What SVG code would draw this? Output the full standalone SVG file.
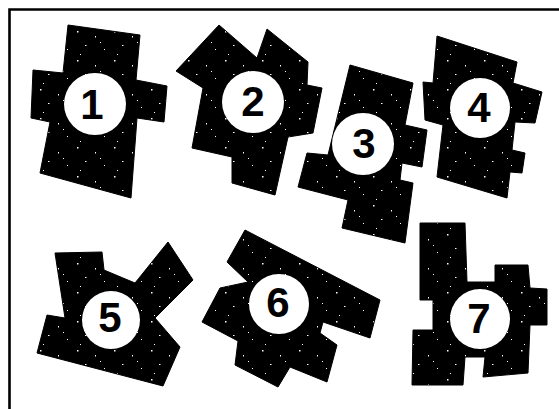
<svg xmlns="http://www.w3.org/2000/svg" width="559" height="409" viewBox="0 0 559 409">
<defs>
<pattern id="speck" x="0" y="0" width="37" height="29" patternUnits="userSpaceOnUse">
<rect width="37" height="29" fill="#000"/>
<rect x="3" y="2" width="1.5" height="1.5" fill="#fff"/>
<rect x="21" y="7" width="1" height="1.5" fill="#fff"/>
<rect x="11" y="16" width="1.5" height="1" fill="#fff"/>
<rect x="30" y="20" width="1" height="1" fill="#fff"/>
<rect x="6" y="25" width="1" height="1" fill="#fff"/>
<rect x="26" y="13" width="1" height="1" fill="#fff"/>
</pattern>
<style>
.piece{fill:url(#speck);stroke:#000;stroke-width:1;stroke-linejoin:round}
.hole{fill:#fff}
.num{font-family:"Liberation Sans",Arial,Helvetica,sans-serif;font-weight:bold;font-size:42px;fill:#000;text-anchor:middle}
.frame{stroke:#000;stroke-width:2.6;fill:none}
</style>
</defs>
<rect width="559" height="409" fill="#fff"/>
<g id="frame">
<path class="frame" d="M9.5,409 V9.5 H559"/>
</g>
<g id="piece1">
<polygon class="piece" points="68,25 140,35 136,80 167,86 164,122 137,118 131,198 40,173 50,122 31,118 33,70 63,73"/>
<circle class="hole" cx="95" cy="104" r="31"/>
<text class="num" x="92" y="119">1</text>
</g>
<g id="piece2">
<polygon class="piece" points="219,25 176,71 203,88 192,148 232,157 232,183 275,195 288,137 313,133 322,88 307,85 308,62 267,29 257,58"/>
<circle class="hole" cx="253" cy="102" r="31"/>
<text class="num" x="253" y="116">2</text>
</g>
<g id="piece3">
<polygon class="piece" points="350,65 413,83 405,125 427,130 422,167 402,163 400,180 413,183 405,243 342,228 348,200 298,187 307,153 328,155"/>
<circle class="hole" cx="363" cy="144" r="31"/>
<text class="num" x="364" y="158">3</text>
</g>
<g id="piece4">
<polygon class="piece" points="437,36 517,62 513,83 542,92 535,123 515,122 512,150 525,153 522,173 510,172 507,198 437,177 443,125 425,120 423,82 433,83"/>
<circle class="hole" cx="480" cy="108" r="30"/>
<text class="num" x="479" y="122">4</text>
</g>
<g id="piece5">
<polygon class="piece" points="55,253 102,252 104,270 135,283 168,242 193,280 155,318 180,347 163,386 37,353 47,315 65,318"/>
<circle class="hole" cx="111" cy="320" r="29"/>
<text class="num" x="110" y="332">5</text>
</g>
<g id="piece6">
<polygon class="piece" points="245,230 380,300 370,338 323,322 320,333 337,345 327,382 290,367 278,387 235,365 238,341 202,322 220,288 248,282 227,262"/>
<circle class="hole" cx="279" cy="304" r="30"/>
<text class="num" x="278" y="317">6</text>
</g>
<g id="piece7">
<polygon class="piece" points="420,223 465,223 467,282 495,282 495,265 528,265 530,288 547,289 547,325 530,325 528,373 483,377 485,357 465,357 463,385 412,385 413,330 433,330 433,300 420,300"/>
<circle class="hole" cx="480" cy="319" r="30"/>
<text class="num" x="479" y="333">7</text>
</g>
</svg>
